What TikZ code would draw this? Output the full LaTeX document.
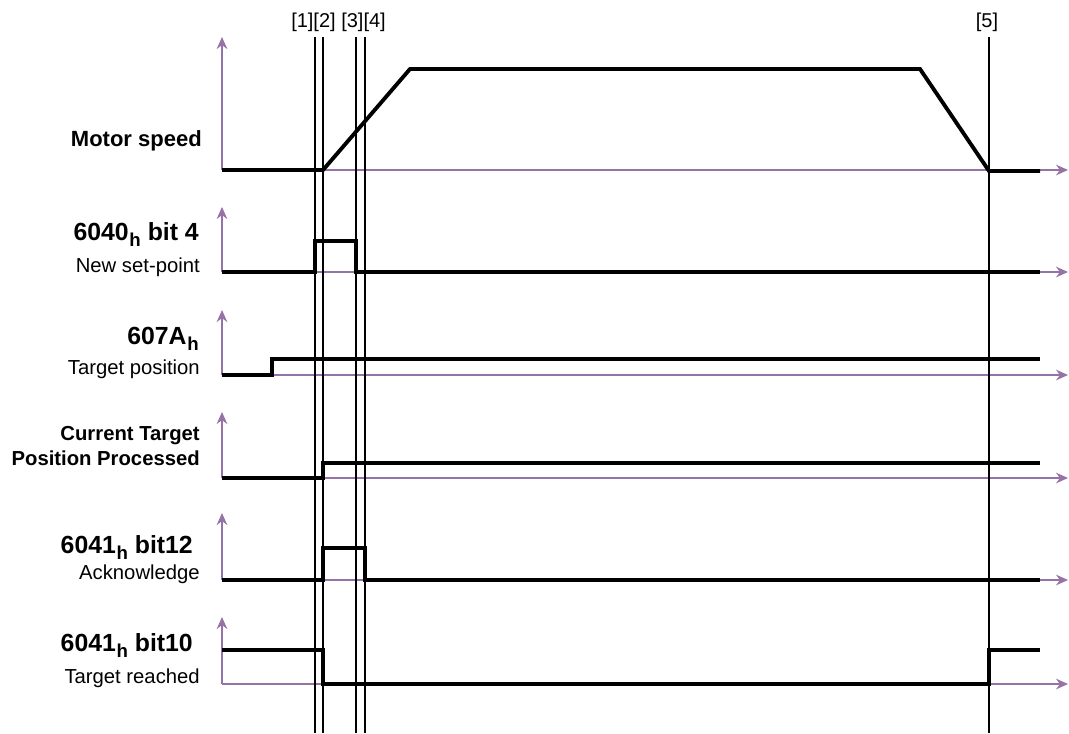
\documentclass[tikz,border=0pt]{standalone}
\usepackage{fontspec}
\setmainfont{Liberation Sans}
\usetikzlibrary{arrows.meta}
\definecolor{axpurple}{HTML}{9673A6}
\newcommand\hsub{\kern0.5pt\raisebox{-5pt}{\fontsize{14}{14}\selectfont h}}
\begin{document}
\begin{tikzpicture}[x=0.75pt,y=-0.75pt,
  axis/.style={axpurple, line width=1.1pt, -{Stealth[length=9pt,width=8pt]}},
  sig/.style={black, line width=2.9pt, line join=miter},
  tline/.style={black, line width=1pt},
  ttl/.style={font=\bfseries\fontsize{16.5}{19}\selectfont, anchor=base east, inner sep=0pt},
  regttl/.style={font=\bfseries\fontsize{18.6}{21}\selectfont, anchor=base east, inner sep=0pt},
  smallttl/.style={font=\bfseries\fontsize{15.2}{18}\selectfont, anchor=base east, inner sep=0pt},
  subttl/.style={font=\fontsize{15.2}{18}\selectfont, anchor=base east, inner sep=0pt},
  tlabel/.style={font=\fontsize{15}{18}\selectfont, anchor=base, inner sep=0pt}]
\useasboundingbox (0,0) rectangle (1069,733);
% axes
\foreach \b/\t [count=\i] in {170/37, 272/207, 375/310, 478/412, 580/513, 684/617}{
  \coordinate (o\i) at (222,\b);
  \draw[axis] (o\i) -- (222,\t);
  \draw[axis] (o\i) -- (1068,\b);
}
% signals
\draw[sig] (o1) -- (323,170) -- (410,69) -- (920,69) -- (989,171) -- (1040,171);
\draw[sig] (o2) -- (315,272) -- (315,241) -- (356,241) -- (356,272) -- (1040,272);
\draw[sig] (o3) -- (272,375) -- (272,359) -- (1040,359);
\draw[sig] (o4) -- (323,478) -- (323,463) -- (1040,463);
\draw[sig] (o5) -- (323,580) -- (323,548) -- (365,548) -- (365,580) -- (1040,580);
\draw[sig] (222,650) -- (323,650) -- (323,684) -- (989,684) -- (989,650) -- (1040,650);
% time markers
\foreach \x [count=\j] in {315,323,356,365,989}{
  \coordinate (t\j) at (\x,37);
  \draw[tline] (t\j) -- (\x,733);
}
\node[tlabel] (lab14) at (338.5,27) {[1][2] [3][4]};
\node[tlabel] (lab5) at (987,27) {[5]};
% left labels
\node[ttl] (n1) at (202,146) {Motor speed};
\node[regttl] (n2) at (199,240) {6040\hsub\ bit 4};
\node[subttl] (s2) at (200,272) {New set-point};
\node[regttl] (n3) at (199,344) {607A\hsub};
\node[subttl] (s3) at (200,374) {Target position};
\node[smallttl] (n4a) at (200,440) {Current Target};
\node[smallttl] (n4b) at (200,465) {Position Processed};
\node[regttl] (n5) at (193,553) {6041\hsub\ bit12};
\node[subttl] (s5) at (200,579) {Acknowledge};
\node[regttl] (n6) at (193,651) {6041\hsub\ bit10};
\node[subttl] (s6) at (200,683) {Target reached};
\end{tikzpicture}
\end{document}
